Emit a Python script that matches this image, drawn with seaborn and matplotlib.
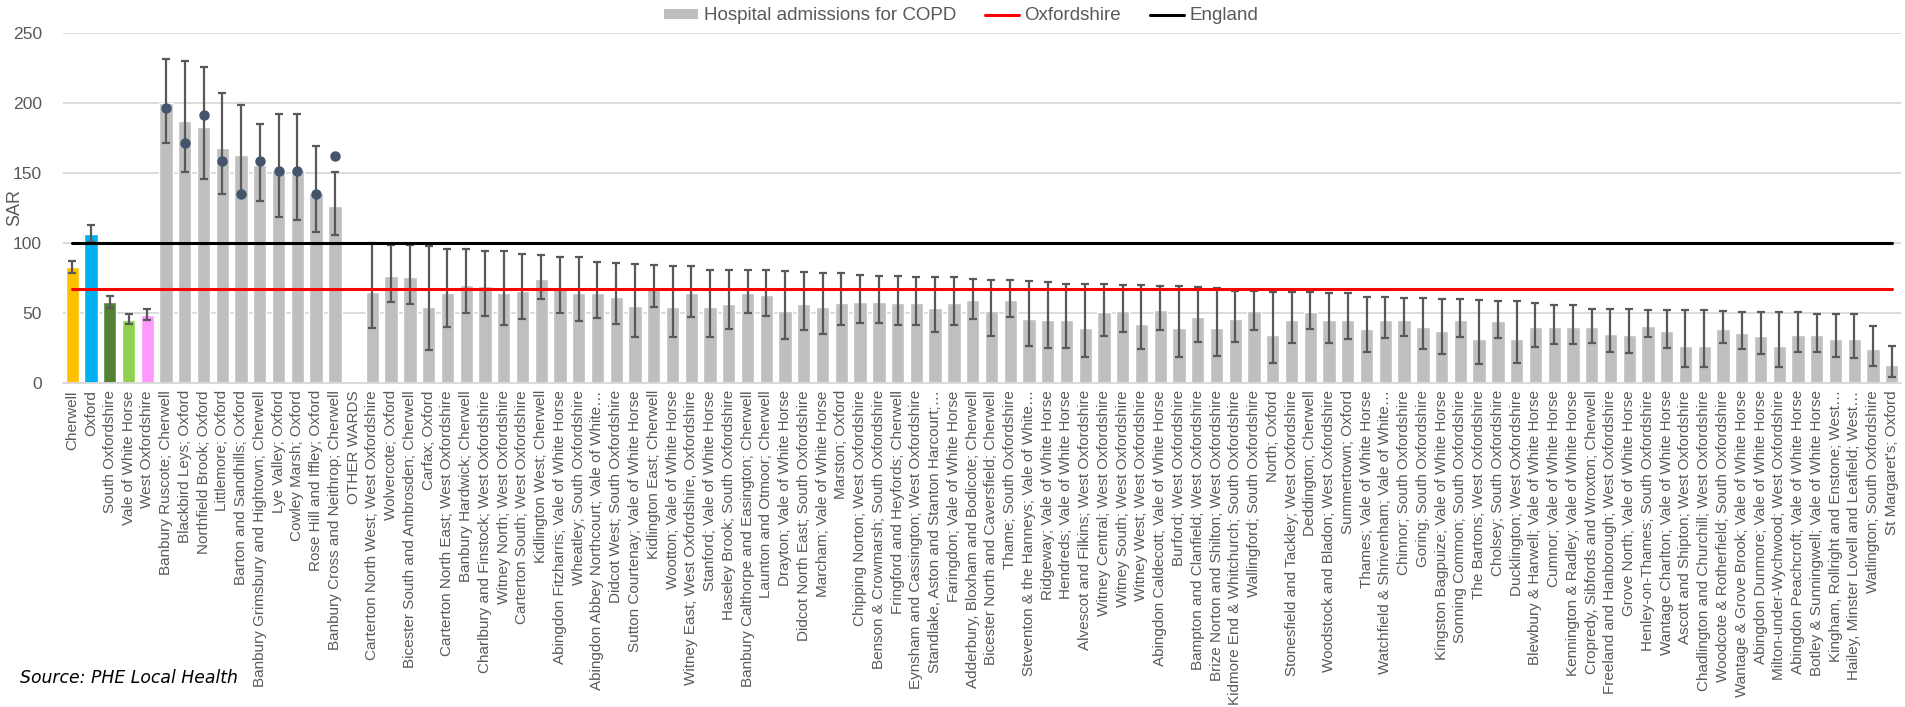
import numpy as np
import pandas as pd
import matplotlib
matplotlib.use("Agg")
import matplotlib.pyplot as plt
from matplotlib.patches import Patch
from matplotlib.lines import Line2D
import seaborn as sns

# ---------------- data ----------------
districts = ["Cherwell", "Oxford", "South Oxfordshire", "Vale of White Horse", "West Oxfordshire"]
district_sar = [82.6, 106.4, 57.9, 45.3, 48.5]
district_lo = [78.8, 100.5, 53.7, 42.1, 45.0]
district_hi = [87.4, 112.8, 62.4, 49.2, 52.7]
district_colors = ["#FFC000", "#00B0F0", "#548235", "#92D050", "#FF99FF"]

wards = [
    "Banbury Ruscote; Cherwell", "Blackbird Leys; Oxford", "Northfield Brook; Oxford",
    "Littlemore; Oxford", "Barton and Sandhills; Oxford", "Banbury Grimsbury and Hightown; Cherwell",
    "Lye Valley; Oxford", "Cowley Marsh; Oxford", "Rose Hill and Iffley; Oxford",
    "Banbury Cross and Neithrop; Cherwell", "OTHER WARDS",
    "Carterton North West; West Oxfordshire", "Wolvercote; Oxford",
    "Bicester South and Ambrosden; Cherwell", "Carfax; Oxford",
    "Carterton North East; West Oxfordshire", "Banbury Hardwick; Cherwell",
    "Charlbury and Finstock; West Oxfordshire", "Witney North; West Oxfordshire",
    "Carterton South; West Oxfordshire", "Kidlington West; Cherwell",
    "Abingdon Fitzharris; Vale of White Horse", "Wheatley; South Oxfordshire",
    "Abingdon Abbey Northcourt; Vale of White…", "Didcot West; South Oxfordshire",
    "Sutton Courtenay; Vale of White Horse", "Kidlington East; Cherwell",
    "Wootton; Vale of White Horse", "Witney East; West Oxfordshire, Oxfordshire",
    "Stanford; Vale of White Horse", "Haseley Brook; South Oxfordshire",
    "Banbury Calthorpe and Easington; Cherwell", "Launton and Otmoor; Cherwell",
    "Drayton; Vale of White Horse", "Didcot North East; South Oxfordshire",
    "Marcham; Vale of White Horse", "Marston; Oxford", "Chipping Norton; West Oxfordshire",
    "Benson & Crowmarsh; South Oxfordshire", "Fringford and Heyfords; Cherwell",
    "Eynsham and Cassington; West Oxfordshire", "Standlake, Aston and Stanton Harcourt;…",
    "Faringdon; Vale of White Horse", "Adderbury, Bloxham and Bodicote; Cherwell",
    "Bicester North and Caversfield; Cherwell", "Thame; South Oxfordshire",
    "Steventon & the Hanneys; Vale of White…", "Ridgeway; Vale of White Horse",
    "Hendreds; Vale of White Horse", "Alvescot and Filkins; West Oxfordshire",
    "Witney Central; West Oxfordshire", "Witney South; West Oxfordshire",
    "Witney West; West Oxfordshire", "Abingdon Caldecott; Vale of White Horse",
    "Burford; West Oxfordshire", "Bampton and Clanfield; West Oxfordshire",
    "Brize Norton and Shilton; West Oxfordshire", "Kidmore End & Whitchurch; South Oxfordshire",
    "Wallingford; South Oxfordshire", "North; Oxford",
    "Stonesfield and Tackley; West Oxfordshire", "Deddington; Cherwell",
    "Woodstock and Bladon; West Oxfordshire", "Summertown; Oxford",
    "Thames; Vale of White Horse", "Watchfield & Shrivenham; Vale of White…",
    "Chinnor; South Oxfordshire", "Goring; South Oxfordshire",
    "Kingston Bagpuize; Vale of White Horse", "Sonning Common; South Oxfordshire",
    "The Bartons; West Oxfordshire", "Cholsey; South Oxfordshire",
    "Ducklington; West Oxfordshire", "Blewbury & Harwell; Vale of White Horse",
    "Cumnor; Vale of White Horse", "Kennington & Radley; Vale of White Horse",
    "Cropredy, Sibfords and Wroxton; Cherwell", "Freeland and Hanborough; West Oxfordshire",
    "Grove North; Vale of White Horse", "Henley-on-Thames; South Oxfordshire",
    "Wantage Charlton; Vale of White Horse", "Ascott and Shipton; West Oxfordshire",
    "Chadlington and Churchill; West Oxfordshire", "Woodcote & Rotherfield; South Oxfordshire",
    "Wantage & Grove Brook; Vale of White Horse", "Abingdon Dunmore; Vale of White Horse",
    "Milton-under-Wychwood; West Oxfordshire", "Abingdon Peachcroft; Vale of White Horse",
    "Botley & Sunningwell; Vale of White Horse", "Kingham, Rollright and Enstone; West…",
    "Hailey, Minster Lovell and Leafield; West…", "Watlington; South Oxfordshire",
    "St Margaret's; Oxford",
]
ward_sar = [
    199.9, 187.0, 182.3, 167.8, 163.0, 155.9, 151.7, 151.7, 135.6, 126.3, np.nan,
    64.9, 76.2, 75.5, 54.0, 64.0, 69.8, 69.1, 64.0, 65.9, 74.3,
    68.5, 64.0, 64.6, 61.7, 55.3, 68.5, 54.6, 64.0, 54.0, 56.6,
    64.0, 63.0, 51.8, 56.6, 54.6, 57.5, 58.2, 58.2, 57.2, 57.5,
    53.4, 57.5, 59.5, 51.4, 59.5, 46.0, 45.3, 45.3, 39.5, 50.5,
    51.4, 42.4, 52.1, 39.5, 47.3, 39.5, 46.0, 51.4, 34.7, 44.7,
    50.8, 44.7, 45.3, 38.3, 45.3, 45.3, 40.2, 37.0, 44.7, 31.5,
    44.0, 31.5, 40.2, 40.2, 40.2, 40.2, 35.4, 34.7, 41.1, 37.0,
    26.7, 26.7, 38.9, 35.7, 33.8, 26.7, 34.7, 34.1, 31.5, 31.5,
    24.4, 13.2,
]
ward_lo = [
    171.0, 150.4, 145.3, 134.7, 133.4, 130.2, 118.6, 116.7, 107.7, 105.8, np.nan,
    39.2, 58.2, 56.6, 23.8, 40.2, 50.1, 48.2, 41.5, 46.0, 60.1,
    50.1, 44.4, 46.6, 42.4, 33.1, 54.0, 33.1, 46.9, 33.1, 38.3,
    50.1, 47.6, 31.5, 37.6, 35.4, 41.8, 42.8, 42.8, 41.8, 41.8,
    36.3, 41.8, 45.6, 33.8, 46.9, 26.4, 25.4, 25.4, 19.0, 33.8,
    36.3, 24.1, 37.6, 19.0, 29.6, 19.6, 29.6, 37.6, 14.5, 28.9,
    38.3, 28.9, 31.5, 22.2, 32.1, 33.4, 24.4, 20.9, 32.8, 13.5,
    32.5, 14.5, 26.0, 27.6, 27.6, 28.9, 22.2, 21.5, 32.8, 25.1,
    11.3, 11.3, 28.3, 24.4, 20.9, 11.3, 22.2, 22.2, 18.6, 17.7,
    12.5, 4.5,
]
ward_hi = [
    230.8, 229.5, 225.3, 207.0, 198.3, 184.8, 191.6, 191.6, 169.0, 150.4, np.nan,
    99.6, 98.7, 98.7, 98.0, 95.5, 95.5, 93.9, 93.9, 91.9, 91.6,
    90.3, 89.7, 86.5, 85.8, 85.2, 84.5, 83.6, 83.6, 81.0, 80.4,
    80.4, 80.4, 79.7, 79.1, 78.8, 78.4, 77.1, 76.5, 76.5, 75.9,
    75.9, 75.9, 74.6, 73.9, 73.3, 72.6, 72.0, 70.7, 70.4, 70.4,
    69.8, 69.8, 69.1, 69.1, 68.5, 67.8, 65.9, 65.9, 65.3, 65.3,
    65.3, 64.3, 64.0, 61.7, 61.7, 60.4, 60.4, 59.8, 60.1, 59.5,
    58.8, 58.8, 57.2, 55.9, 55.9, 52.7, 52.7, 52.7, 52.1, 52.1,
    52.1, 52.1, 51.8, 51.1, 51.1, 50.8, 50.8, 49.5, 49.5, 49.2,
    40.8, 26.7,
]
# second (marker) series shown only for the top wards
ward_marker = [196.0, 171.3, 191.3, 158.5, 135.0, 158.1, 151.4, 151.4, 134.7, 162.0]

OXFORDSHIRE = 67.0
ENGLAND = 100.0
WARD_COLOR = "#BFBFBF"

# ---------------- assemble ----------------
categories = districts + wards
values = np.array(district_sar + ward_sar, dtype=float)
lows = np.array(district_lo + ward_lo, dtype=float)
highs = np.array(district_hi + ward_hi, dtype=float)
markers = np.array([np.nan] * len(districts) + ward_marker
                   + [np.nan] * (len(wards) - len(ward_marker)), dtype=float)
n = len(categories)
palette = {c: col for c, col in zip(districts, district_colors)}
palette.update({w: WARD_COLOR for w in wards})
df = pd.DataFrame({"area": categories, "sar": values})

sns.set_style("white")
plt.rcParams["font.family"] = ["Liberation Sans", "DejaVu Sans"]

fig = plt.figure(figsize=(19.05, 7.07), dpi=100)
ax = fig.add_axes([0.033, 0.458, 0.965, 0.496])

sns.barplot(data=df, x="area", y="sar", hue="area", order=categories,
            hue_order=categories, palette=palette, legend=False,
            width=0.71, saturation=1, errorbar=None, ax=ax, zorder=2)

xpos = np.arange(n)
ax.errorbar(xpos, values, yerr=[values - lows, highs - values], fmt="none",
            ecolor="#595959", elinewidth=1.6, capsize=3.2, capthick=1.6, zorder=3)
ax.plot(xpos, markers, "o", color="#44546A", ms=6.5, zorder=4)

ax.plot(xpos, np.full(n, OXFORDSHIRE), color="#FF0000", lw=2.2, zorder=5)
ax.plot(xpos, np.full(n, ENGLAND), color="#000000", lw=2.2, zorder=5)

ax.set_xlim(-0.5, n - 0.5)
ax.set_ylim(0, 250)
ax.set_yticks(np.arange(0, 251, 50))
ax.yaxis.grid(True, color="#D9D9D9", lw=1.3)
ax.set_axisbelow(True)
for s in ["left", "top", "right"]:
    ax.spines[s].set_visible(False)
ax.spines["bottom"].set_color("#D9D9D9")
ax.spines["bottom"].set_linewidth(1.3)

ax.set_xlabel("")
ax.set_ylabel("SAR", fontsize=13, color="#595959")
ax.yaxis.set_label_coords(-40 / (0.965 * 1905), 0.5)
ax.tick_params(axis="y", labelsize=12.6, colors="#595959", length=0, pad=15)
ax.tick_params(axis="x", labelsize=11, colors="#595959", length=0, pad=5)
ax.set_xticks(xpos)
ax.set_xticklabels(categories, rotation=90)

handles = [Patch(facecolor=WARD_COLOR, edgecolor="none"),
           Line2D([0], [0], color="#FF0000", lw=2.2),
           Line2D([0], [0], color="#000000", lw=2.2)]
labels = ["Hospital admissions for COPD", "Oxfordshire", "England"]
leg = fig.legend(handles, labels, loc="center", bbox_to_anchor=(0.5047, 1 - 16 / 707),
                 ncol=3, frameon=False, fontsize=13.5, handlelength=1.8,
                 handleheight=0.5, columnspacing=1.55, handletextpad=0.3,
                 borderpad=0.0)
for t in leg.get_texts():
    t.set_color("#595959")

fig.text(20 / 1905, 1 - 678 / 707, "Source: PHE Local Health", style="italic",
         fontsize=12.4, family=["DejaVu Sans"], va="center", color="#000000")

fig.savefig("out.png", dpi=100)
